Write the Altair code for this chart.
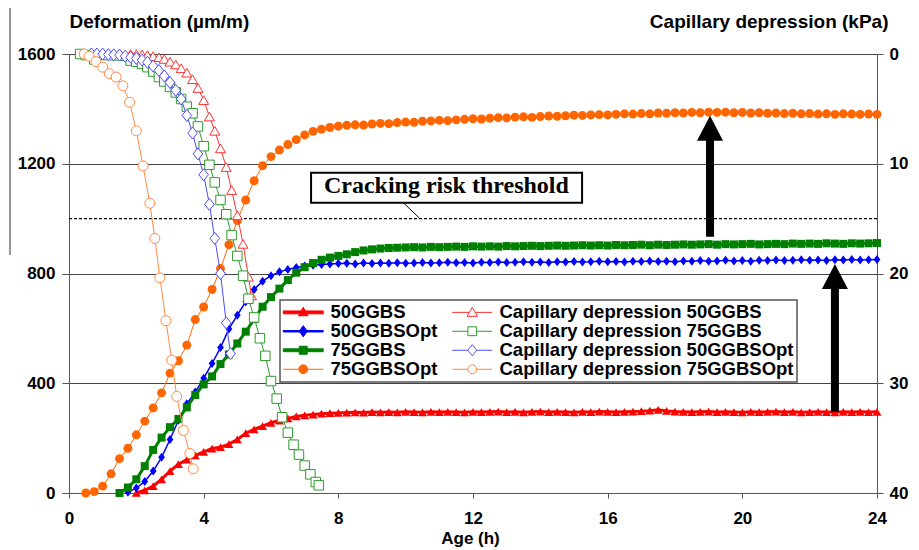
import altair as alt
import pandas as pd

# ---------------- data ----------------
T = [0.5, 0.75, 1.0, 1.25, 1.5, 1.75, 2.0, 2.25, 2.5, 2.75, 3.0, 3.25, 3.5, 3.75, 4.0, 4.25,
     4.5, 4.75, 5.0, 5.25, 5.5, 5.75, 6.0, 6.25, 6.5, 6.75, 7.0, 7.25, 7.5, 7.75, 8.0,
     8.25, 8.5, 8.75, 9.0, 9.25, 9.5, 9.75, 10.0, 10.25, 10.5, 10.75, 11.0, 11.25, 11.5, 11.75,
     12.0, 12.25, 12.5, 12.75, 13.0, 13.25, 13.5, 13.75, 14.0, 14.25, 14.5, 14.75, 15.0, 15.25,
     15.5, 15.75, 16.0, 16.25, 16.5, 16.75, 17.0, 17.25, 17.5, 17.75, 18.0, 18.25, 18.5, 18.75,
     19.0, 19.25, 19.5, 19.75, 20.0, 20.25, 20.5, 20.75, 21.0, 21.25, 21.5, 21.75, 22.0, 22.25,
     22.5, 22.75, 23.0, 23.25, 23.5, 23.75, 24.0]

DEF_50GGBS = [None, None, None, None, None, None, 0, 10, 25, 50, 80, 105, 122, 137, 150, 162,
              167, 178, 195, 218, 232, 244, 256, 264, 272, 279, 283, 286, 289, 291, 292,
              293, 294, 293, 295, 294, 295, 294, 296, 295, 294,
              296, 295, 296, 295, 294, 296, 295, 296, 297, 295,
              296, 294, 296, 297, 295, 296, 295, 294, 296, 295,
              297, 296, 295, 296, 297, 298, 300, 303, 299, 297,
              296, 295, 296, 297, 295, 296, 295, 294, 296, 295,
              296, 297, 295, 296, 294, 295, 296, 295, 294, 296,
              295, 296, 295, 296]

DEF_50GGBSOPT = [None, None, None, None, None, 3, 18, 42, 80, 130, 195, 265, 325, 368, 418, 472,
                 530, 598, 648, 697, 742, 772, 792, 806, 815, 822, 827, 830, 833, 835, 836,
                 837, 835, 838, 836, 838, 837, 839, 837, 838, 840,
                 838, 839, 841, 839, 840, 838, 841, 840, 842, 840,
                 841, 843, 841, 842, 840, 843, 842, 844, 842, 843,
                 845, 843, 844, 842, 845, 844, 846, 844, 845, 843,
                 846, 845, 847, 845, 846, 848, 846, 847, 845, 848,
                 847, 849, 847, 848, 850, 848, 849, 847, 850, 849,
                 851, 849, 850, 851]

DEF_75GGBS = [None, None, None, None, 0, 20, 50, 98, 157, 202, 240, 270, 312, 357, 396, 425,
              470, 505, 545, 588, 634, 679, 714, 745, 776, 803, 823, 838, 850, 858, 864,
              870, 878, 884, 888, 891, 893, 894, 895, 896, 895,
              897, 896, 897, 898, 897, 899, 898, 899, 898, 900,
              899, 900, 901, 900, 901, 902, 901, 902, 903, 902,
              903, 902, 904, 903, 904, 905, 903, 905, 904, 905,
              906, 905, 906, 907, 905, 907, 906, 907, 908, 906,
              907, 908, 907, 909, 908, 909, 908, 910, 909, 908,
              910, 909, 910, 911]

DEF_75GGBSOPT = [0, 5, 25, 70, 125, 163, 212, 262, 310, 365, 437, 482, 539, 632, 678, 742,
                 818, 905, 993, 1068, 1138, 1193, 1226, 1250, 1270, 1288, 1305, 1318, 1326, 1332, 1337,
                 1340, 1342, 1341, 1345, 1347, 1346, 1350, 1352, 1351, 1355,
                 1356, 1358, 1357, 1360, 1362, 1364, 1363, 1366, 1368, 1367,
                 1370, 1371, 1369, 1372, 1374, 1373, 1375, 1377, 1376, 1378,
                 1379, 1378, 1380, 1382, 1381, 1383, 1382, 1385, 1384, 1386,
                 1385, 1387, 1386, 1388, 1387, 1388, 1386, 1387, 1385, 1386,
                 1384, 1385, 1383, 1384, 1382, 1383, 1381, 1382, 1380, 1382,
                 1381, 1380, 1381, 1380]

CAP50_T = [1.83, 2.0, 2.17, 2.33, 2.5, 2.67, 2.83, 3.0, 3.17, 3.33, 3.5, 3.67, 3.83, 4.0,
           4.17, 4.33, 4.5, 4.67, 4.83, 5.0, 5.17, 5.33, 5.42]
CAP50_V = [0.0, 0.0, 0.05, 0.1, 0.2, 0.3, 0.45, 0.7, 0.95, 1.3, 1.7, 2.3, 3.1, 4.2,
           5.7, 7.0, 8.6, 10.3, 12.4, 14.7, 17.3, 20.3, 22.0]

CAP75_T = [0.33, 0.5, 0.75, 1.83, 2.0, 2.17, 2.33, 2.5, 2.67, 2.83, 3.0, 3.17, 3.33, 3.5,
           3.67, 3.83, 4.0, 4.17, 4.33, 4.5, 4.67, 4.83, 5.0, 5.17, 5.33, 5.5, 5.67, 5.83,
           6.0, 6.17, 6.33, 6.5, 6.67, 6.83, 7.0, 7.17, 7.33, 7.42]
CAP75_V = [0.0, 0.1, 0.5, 0.6, 0.7, 0.9, 1.2, 1.6, 2.1, 2.5, 3.0, 3.5, 4.1, 4.8,
           5.4, 6.6, 8.4, 10.1, 11.7, 13.3, 14.6, 16.5, 18.4, 20.2, 22.3, 24.0, 25.9, 27.5,
           29.8, 31.4, 33.1, 34.5, 35.6, 36.5, 37.5, 38.3, 39.0, 39.3]

CAP50OPT_T = [0.67, 0.83, 1.0, 1.17, 1.33, 1.5, 1.67, 1.83, 2.0, 2.17, 2.33, 2.5, 2.67, 2.83,
              3.0, 3.17, 3.33, 3.5, 3.67, 3.83, 4.0, 4.17, 4.33, 4.5, 4.67, 4.8]
CAP50OPT_V = [0.0, 0.0, 0.0, 0.05, 0.07, 0.1, 0.2, 0.3, 0.4, 0.55, 0.75, 1.1, 1.5, 2.0,
              2.6, 3.3, 4.1, 5.6, 7.2, 9.1, 11.0, 13.7, 16.8, 20.0, 24.5, 27.3]

CAP75OPT_T = [0.45, 0.6, 0.8, 1.0, 1.2, 1.4, 1.6, 1.8, 2.0, 2.2, 2.4, 2.55, 2.7, 2.88, 3.05,
              3.2, 3.4, 3.59, 3.69]
CAP75OPT_V = [0.0, 0.2, 0.7, 1.2, 1.8, 2.1, 2.9, 4.4, 7.0, 10.2, 13.6, 16.8, 20.4, 24.3, 27.9,
              31.2, 34.3, 36.4, 37.8]

THRESHOLD = [1000]
LABEL_TEXT = ["Cracking risk threshold"]
LABEL_POS = {"x": [11.21], "y": [1092]}
LABEL_BOX = {"x0": [7.19], "x1": [15.24], "y0": [1058], "y1": [1167]}
LEADER = {"x0": [9.93], "x1": [10.4], "y0": [1058], "y1": [1003]}
ARROW_X = [19.04, 22.75]
ARROW_FROM = [934, 296]
ARROW_TO = [1375, 835]

X_TICKS = [0, 4, 8, 12, 16, 20, 24]
Y_TICKS = [0, 400, 800, 1200, 1600]
Y2_TICKS = [0, 10, 20, 30, 40]

for s in (DEF_50GGBS, DEF_50GGBSOPT, DEF_75GGBS, DEF_75GGBSOPT):
    assert len(s) == len(T), len(s)

# ---------------- styling ----------------
FONT = "Liberation Sans"
DIA_TALL = "M0,-1L0.75,0L0,1L-0.75,0Z"
DIA_OPEN = "M0,-1L0.8,0L0,1L-0.8,0Z"
ARROW_HEAD = "M0,-0.96L1,0.96L-1,0.96Z"

xs = alt.Scale(domain=[0, 24], nice=False, zero=False)
x_axis = alt.Axis(values=X_TICKS, grid=False, title="Age (h)", titleFontSize=17,
                  titleFontWeight="bold", titleX=401, titleY=50, titleAlign="center",
                  titleBaseline="alphabetic", labelFontSize=17, labelFontWeight="bold",
                  tickSize=5, labelPadding=12, labelFlush=False, format="d")

ys = alt.Scale(domain=[0, 1600], nice=False, zero=True)
y_axis = alt.Axis(values=Y_TICKS, grid=True, gridColor="#444", gridWidth=1, format="d",
                  title="Deformation (µm/m)", titleAngle=0, titleAlign="left", titleX=0,
                  titleY=-27, titleBaseline="alphabetic", titleFontSize=19,
                  titleFontWeight="bold", labelFontSize=17, labelFontWeight="bold",
                  tickSize=7, labelPadding=7)

y2s = alt.Scale(domain=[0, 40], nice=False, reverse=True)
y2_axis = alt.Axis(orient="right", values=Y2_TICKS, grid=False, format="d",
                   title="Capillary depression (kPa)", titleAngle=0, titleAlign="right",
                   titleX=11, titleY=-27, titleBaseline="alphabetic", titleFontSize=19,
                   titleFontWeight="bold", labelFontSize=17, labelFontWeight="bold",
                   tickSize=6, labelPadding=6)


def X(field):
    return alt.X(field, scale=xs, axis=x_axis)


def Y(field):
    return alt.Y(field, scale=ys, axis=y_axis)


def_series = [
    ("50GGBS", DEF_50GGBS, "#ff0000", "triangle-up", 80, 3),
    ("50GGBSOpt", DEF_50GGBSOPT, "#0000ff", DIA_TALL, 81, 1.5),
    ("75GGBS", DEF_75GGBS, "#008000", "square", 64, 3),
    ("75GGBSOpt", DEF_75GGBSOPT, "#ff6600", "circle", 80, 1),
]
cap_series = [
    ("Capillary depression 50GGBS", CAP50_T, CAP50_V, "#ff3030", "triangle-up", 100),
    ("Capillary depression 75GGBS", CAP75_T, CAP75_V, "#2f9a2f", "square", 90),
    ("Capillary depression 50GGBSOpt", CAP50OPT_T, CAP50OPT_V, "#4d4dff", DIA_OPEN, 144),
    ("Capillary depression 75GGBSOpt", CAP75OPT_T, CAP75OPT_V, "#ff8a45", "circle", 100),
]

left = []
for name, vals, color, shape, size, sw in def_series:
    df = pd.DataFrame({"t": T, "v": vals}).dropna()
    left.append(
        alt.Chart(df).mark_line(
            color=color, strokeWidth=sw,
            point=alt.OverlayMarkDef(shape=shape, size=size, filled=True, color=color, opacity=1),
        ).encode(x=X("t:Q"), y=Y("v:Q"))
    )

# threshold line
left.append(
    alt.Chart(pd.DataFrame({"t0": [0], "t1": [24], "v": THRESHOLD}))
    .mark_rule(color="black", strokeWidth=1.2, strokeDash=[3, 2])
    .encode(x=X("t0:Q"), x2="t1:Q", y=Y("v:Q"))
)
# leader line
left.append(
    alt.Chart(pd.DataFrame(LEADER)).mark_rule(color="black", strokeWidth=1)
    .encode(x=X("x0:Q"), x2="x1:Q", y=Y("y0:Q"), y2="y1:Q")
)
# label box + text
left.append(
    alt.Chart(pd.DataFrame(LABEL_BOX)).mark_rect(fill="white", stroke="black", strokeWidth=2)
    .encode(x=X("x0:Q"), x2="x1:Q", y=Y("y0:Q"), y2="y1:Q")
)
left.append(
    alt.Chart(pd.DataFrame({"x": LABEL_POS["x"], "y": LABEL_POS["y"], "txt": LABEL_TEXT}))
    .mark_text(font="Liberation Serif", fontSize=24, fontWeight="bold", align="center",
               baseline="alphabetic", color="black")
    .encode(x=X("x:Q"), y=Y("y:Q"), text="txt:N")
)
# arrows
arr = pd.DataFrame({"x": ARROW_X, "y0": ARROW_FROM, "y1": ARROW_TO})
left.append(
    alt.Chart(arr).mark_rule(color="black", strokeWidth=8, y2Offset=18)
    .encode(x=X("x:Q"), y=Y("y0:Q"), y2="y1:Q")
)
left.append(
    alt.Chart(arr).mark_point(shape=ARROW_HEAD, size=676, filled=True, color="black",
                              opacity=1, yOffset=12.5)
    .encode(x=X("x:Q"), y=Y("y1:Q"))
)
# stray frame line at the far left of the figure
left.append(
    alt.Chart(pd.DataFrame({"a": [0]})).mark_rule(color="#777", strokeWidth=1.5)
    .encode(x=alt.value(-59), y=alt.value(-46), y2=alt.value(201))
)

# legend (entries come from explicit scale domains; no data rows drawn)
LEG_NAMES = ["50GGBS", "50GGBSOpt", "75GGBS", "75GGBSOpt",
             "Capillary depression 50GGBS", "Capillary depression 75GGBS",
             "Capillary depression 50GGBSOpt", "Capillary depression 75GGBSOpt"]
LEG_FILL = ["#ff0000", "#0000ff", "#008000", "#ff6600", "white", "white", "white", "white"]
LEG_STROKE = ["#ff0000", "#0000ff", "#008000", "#ff6600", "#ff3030", "#2f9a2f", "#4d4dff", "#ff8a45"]
LEG_SHAPE = [
    "M-2.35,-0.17H2.35V0.17H-2.35Z M0,-0.6L0.56,0.4L-0.56,0.4Z",
    "M-2.35,-0.085H2.35V0.085H-2.35Z M0,-0.66L0.47,0L0,0.66L-0.47,0Z",
    "M-2.35,-0.17H2.35V0.17H-2.35Z M-0.47,-0.47H0.47V0.47H-0.47Z",
    "M-2.35,0H2.35 M-0.52,0A0.52,0.52 0 1,1 0.52,0A0.52,0.52 0 1,1 -0.52,0Z",
    "M-2.35,0H-0.35M0.35,0H2.35 M0,-0.61L0.61,0.47L-0.61,0.47Z",
    "M-2.35,0H-0.52M0.52,0H2.35 M-0.52,-0.52H0.52V0.52H-0.52Z",
    "M-2.35,0H-0.52M0.52,0H2.35 M0,-0.66L0.52,0L0,0.66L-0.52,0Z",
    "M-2.35,0H-0.52M0.52,0H2.35 M-0.52,0A0.52,0.52 0 1,1 0.52,0A0.52,0.52 0 1,1 -0.52,0Z",
]
leg = alt.Legend(title=None, orient="none", legendX=211, legendY=246, columns=2,
                 columnPadding=12, rowPadding=0, padding=3, symbolSize=289,
                 symbolOffset=11, symbolStrokeWidth=1, labelFont=FONT, labelFontSize=18.5,
                 labelFontWeight="bold", labelOffset=18, labelLimit=400,
                 fillColor="white", strokeColor="#555", labelColor="black")
left.append(
    alt.Chart(pd.DataFrame({"series": LEG_NAMES})).transform_filter("false")
    .mark_point(filled=True, opacity=1)
    .encode(
        shape=alt.Shape("series:N", scale=alt.Scale(domain=LEG_NAMES, range=LEG_SHAPE), legend=leg),
        fill=alt.Fill("series:N", scale=alt.Scale(domain=LEG_NAMES, range=LEG_FILL), legend=leg),
        stroke=alt.Stroke("series:N", scale=alt.Scale(domain=LEG_NAMES, range=LEG_STROKE), legend=leg),
    )
)

right = []
for name, ts, vs, color, shape, size in cap_series:
    df = pd.DataFrame({"t": ts, "kpa": vs})
    right.append(
        alt.Chart(df).mark_line(
            color=color, strokeWidth=1,
            point=alt.OverlayMarkDef(shape=shape, size=size, filled=True, fill="white",
                                     stroke=color, strokeWidth=1, opacity=1),
        ).encode(x=X("t:Q"), y=alt.Y("kpa:Q", scale=y2s, axis=y2_axis))
    )

chart = (
    alt.layer(alt.layer(*left), alt.layer(*right))
    .resolve_scale(y="independent")
    .properties(width=808, height=439, background="white",
                autosize=alt.AutoSizeParams(type="none"),
                padding={"left": 69, "top": 54, "right": 42, "bottom": 57})
    .configure_view(stroke=None)
    .configure_axis(labelFont=FONT, titleFont=FONT, domainColor="#555", tickColor="#555",
                    labelColor="black", titleColor="black")
    .configure_legend(strokeWidth=1.5)
)

chart.save("out.html", embed_options={"renderer": "svg", "actions": False})
